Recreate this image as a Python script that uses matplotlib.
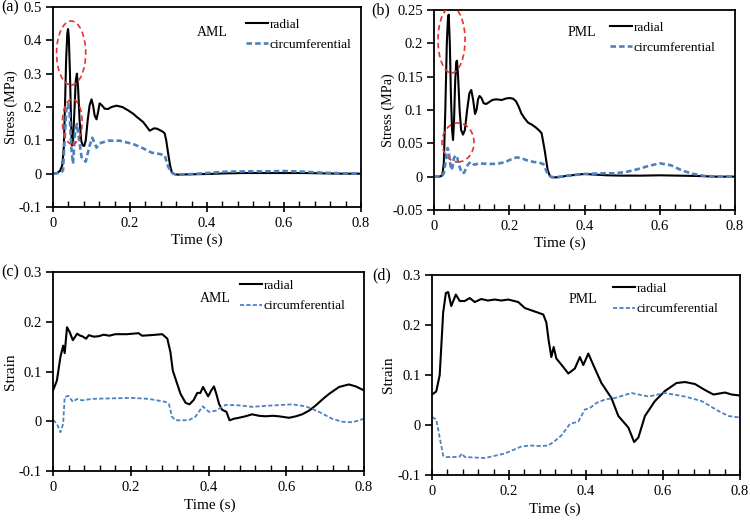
import matplotlib
matplotlib.use("Agg")
import matplotlib.pyplot as plt
from matplotlib.patches import Ellipse
from matplotlib.ticker import MultipleLocator, FuncFormatter, FixedLocator

plt.rcParams['font.family'] = ['Liberation Serif', 'DejaVu Serif']
plt.rcParams['axes.unicode_minus'] = False
plt.rcParams['lines.scale_dashes'] = False

# ---------------- data (time s, value) ----------------
aml_stress_radial = [(0, 0), (0.01, 0.002), (0.018, 0.008), (0.024, 0.025), (0.028, 0.08), (0.031, 0.2),
    (0.034, 0.34), (0.037, 0.42), (0.039, 0.434), (0.041, 0.41), (0.044, 0.3), (0.047, 0.15), (0.049, 0.085),
    (0.052, 0.1), (0.056, 0.2), (0.059, 0.28), (0.062, 0.3), (0.065, 0.26), (0.069, 0.16), (0.073, 0.1),
    (0.077, 0.085), (0.081, 0.083), (0.085, 0.1), (0.09, 0.16), (0.095, 0.205), (0.1, 0.223), (0.104, 0.205),
    (0.108, 0.175), (0.113, 0.163), (0.117, 0.185), (0.121, 0.211), (0.127, 0.205), (0.134, 0.195),
    (0.143, 0.194), (0.152, 0.2), (0.165, 0.204), (0.18, 0.2), (0.195, 0.19), (0.208, 0.18), (0.22, 0.168),
    (0.234, 0.155), (0.244, 0.14), (0.251, 0.129), (0.256, 0.132), (0.262, 0.136), (0.27, 0.135),
    (0.277, 0.131), (0.285, 0.126), (0.29, 0.121), (0.294, 0.1), (0.299, 0.061), (0.304, 0.025),
    (0.308, 0.006), (0.312, 0.0), (0.316, -0.0015), (0.325, -0.003), (0.35, -0.002), (0.4, -0.001),
    (0.45, 0.001), (0.5, 0.002), (0.55, 0.002), (0.6, 0.002), (0.65, 0.002), (0.7, 0.001), (0.75, 0.0), (0.8, 0.0)]
aml_stress_circ = [(0, 0), (0.015, 0.002), (0.022, 0.005), (0.026, 0.01), (0.03, 0.1), (0.035, 0.2),
    (0.039, 0.209), (0.043, 0.18), (0.048, 0.07), (0.052, 0.03), (0.057, 0.12), (0.062, 0.149), (0.068, 0.1),
    (0.074, 0.05), (0.085, 0.036), (0.094, 0.08), (0.102, 0.108), (0.113, 0.078), (0.121, 0.091),
    (0.143, 0.099), (0.173, 0.099), (0.208, 0.089), (0.234, 0.076), (0.256, 0.063), (0.277, 0.059),
    (0.29, 0.055), (0.299, 0.021), (0.308, 0.004), (0.316, -0.002), (0.35, -0.002), (0.4, 0.002),
    (0.45, 0.006), (0.5, 0.007), (0.55, 0.007), (0.6, 0.008), (0.65, 0.006), (0.7, 0.003), (0.75, 0.001), (0.8, 0.001)]

pml_stress_radial = [(0, 0), (0.015, 0), (0.022, 0.002), (0.026, 0.02), (0.03, 0.1), (0.034, 0.2),
    (0.037, 0.238), (0.039, 0.243), (0.042, 0.2), (0.045, 0.12), (0.048, 0.07), (0.0505, 0.055), (0.053, 0.08),
    (0.056, 0.14), (0.059, 0.172), (0.061, 0.174), (0.064, 0.15), (0.068, 0.1), (0.072, 0.07), (0.077, 0.063),
    (0.082, 0.07), (0.088, 0.1), (0.094, 0.125), (0.099, 0.13), (0.104, 0.115), (0.109, 0.094), (0.113, 0.1),
    (0.117, 0.116), (0.121, 0.121), (0.126, 0.118), (0.132, 0.11), (0.139, 0.109), (0.147, 0.112),
    (0.155, 0.115), (0.165, 0.116), (0.18, 0.115), (0.19, 0.117), (0.2, 0.118), (0.21, 0.117), (0.218, 0.113),
    (0.225, 0.105), (0.232, 0.095), (0.24, 0.088), (0.25, 0.081), (0.26, 0.078), (0.27, 0.074), (0.28, 0.069),
    (0.286, 0.065), (0.294, 0.04), (0.302, 0.01), (0.308, 0.001), (0.313, -0.001), (0.33, -0.001), (0.35, 0.001),
    (0.38, 0.003), (0.4, 0.004), (0.43, 0.003), (0.46, 0.002), (0.5, 0.0015), (0.55, 0.0015), (0.6, 0.002),
    (0.65, 0.0015), (0.7, 0.001), (0.75, 0.0), (0.8, 0.0)]
pml_stress_circ = [(0, 0), (0.02, 0), (0.026, 0.005), (0.03, 0.02), (0.033, 0.035), (0.036, 0.043),
    (0.039, 0.038), (0.043, 0.02), (0.046, 0.01), (0.049, 0.014), (0.053, 0.028), (0.058, 0.032), (0.062, 0.028),
    (0.066, 0.018), (0.071, 0.01), (0.075, 0.005), (0.08, 0.006), (0.085, 0.012), (0.09, 0.018), (0.097, 0.022),
    (0.103, 0.019), (0.11, 0.018), (0.117, 0.02), (0.13, 0.0195), (0.15, 0.019), (0.17, 0.0195), (0.19, 0.022),
    (0.205, 0.026), (0.22, 0.029), (0.235, 0.027), (0.25, 0.024), (0.265, 0.022), (0.28, 0.021), (0.29, 0.019),
    (0.296, 0.012), (0.302, 0.004), (0.31, 0.0), (0.32, -0.001), (0.35, 0.001), (0.4, 0.004), (0.45, 0.005),
    (0.48, 0.005), (0.51, 0.007), (0.54, 0.011), (0.57, 0.016), (0.6, 0.02), (0.63, 0.017), (0.66, 0.009),
    (0.69, 0.004), (0.72, 0.001), (0.76, 0.0), (0.8, 0.0)]

aml_strain_radial = [(0, 0.062), (0.01, 0.082), (0.019, 0.129), (0.026, 0.152), (0.03, 0.137), (0.036, 0.189),
    (0.043, 0.179), (0.051, 0.163), (0.062, 0.176), (0.07, 0.172), (0.075, 0.171), (0.085, 0.166),
    (0.092, 0.173), (0.105, 0.17), (0.118, 0.171), (0.13, 0.174), (0.145, 0.172), (0.16, 0.175), (0.19, 0.175),
    (0.22, 0.177), (0.229, 0.172), (0.25, 0.173), (0.281, 0.175), (0.294, 0.166), (0.302, 0.139),
    (0.308, 0.102), (0.319, 0.076), (0.328, 0.055), (0.341, 0.037), (0.351, 0.034), (0.362, 0.043),
    (0.371, 0.057), (0.379, 0.057), (0.386, 0.069), (0.392, 0.06), (0.399, 0.05), (0.407, 0.062),
    (0.414, 0.07), (0.42, 0.055), (0.427, 0.035), (0.435, 0.023), (0.446, 0.019), (0.454, 0.002),
    (0.465, 0.005), (0.478, 0.007), (0.495, 0.01), (0.512, 0.014), (0.53, 0.011), (0.547, 0.01),
    (0.565, 0.011), (0.581, 0.01), (0.607, 0.007), (0.625, 0.01), (0.641, 0.014), (0.66, 0.022), (0.676, 0.032),
    (0.693, 0.044), (0.71, 0.055), (0.736, 0.069), (0.761, 0.074), (0.779, 0.07), (0.8, 0.062)]
aml_strain_circ = [(0, 0.003), (0.01, -0.005), (0.019, -0.022), (0.026, -0.005), (0.03, 0.049), (0.04, 0.051),
    (0.051, 0.039), (0.062, 0.045), (0.075, 0.042), (0.1, 0.045), (0.15, 0.046), (0.203, 0.047), (0.246, 0.045),
    (0.289, 0.039), (0.298, 0.035), (0.306, 0.009), (0.315, 0.002), (0.349, 0.002), (0.366, 0.009),
    (0.385, 0.03), (0.401, 0.019), (0.418, 0.021), (0.444, 0.033), (0.478, 0.032), (0.512, 0.029),
    (0.547, 0.031), (0.615, 0.034), (0.65, 0.03), (0.684, 0.019), (0.718, 0.005), (0.744, -0.001),
    (0.77, -0.002), (0.8, 0.005)]

pml_strain_radial = [(0, 0.061), (0.011, 0.067), (0.02, 0.1), (0.029, 0.225), (0.036, 0.264), (0.042, 0.266),
    (0.05, 0.238), (0.062, 0.261), (0.072, 0.248), (0.085, 0.248), (0.098, 0.254), (0.111, 0.246),
    (0.128, 0.252), (0.145, 0.249), (0.163, 0.251), (0.18, 0.249), (0.198, 0.251), (0.224, 0.246),
    (0.241, 0.234), (0.267, 0.227), (0.289, 0.221), (0.297, 0.205), (0.303, 0.169), (0.31, 0.136),
    (0.316, 0.156), (0.323, 0.133), (0.341, 0.116), (0.354, 0.103), (0.371, 0.113), (0.384, 0.136),
    (0.393, 0.12), (0.406, 0.143), (0.419, 0.12), (0.44, 0.084), (0.466, 0.054), (0.484, 0.018),
    (0.51, -0.005), (0.525, -0.034), (0.536, -0.025), (0.553, 0.018), (0.579, 0.048), (0.605, 0.068),
    (0.635, 0.084), (0.657, 0.086), (0.683, 0.082), (0.709, 0.07), (0.731, 0.061), (0.761, 0.065),
    (0.778, 0.061), (0.8, 0.059)]
pml_strain_circ = [(0, 0.016), (0.011, 0.011), (0.02, -0.025), (0.029, -0.061), (0.037, -0.064),
    (0.059, -0.064), (0.072, -0.063), (0.078, -0.057), (0.085, -0.064), (0.137, -0.066), (0.189, -0.057),
    (0.232, -0.043), (0.254, -0.041), (0.284, -0.042), (0.302, -0.041), (0.319, -0.032), (0.336, -0.021),
    (0.358, 0.002), (0.38, 0.007), (0.397, 0.031), (0.41, 0.034), (0.427, 0.044), (0.449, 0.051),
    (0.475, 0.054), (0.518, 0.064), (0.562, 0.057), (0.605, 0.064), (0.657, 0.057), (0.7, 0.048),
    (0.744, 0.028), (0.77, 0.018), (0.8, 0.015)]

# highlight ellipses (center t, center value, width, height)
aml_ellipses = [(0.047, 0.362, 0.0756, 0.192), (0.05, 0.156, 0.051, 0.135)]
pml_ellipses = [(0.0465, 0.205, 0.0718, 0.099), (0.0638, 0.0513, 0.085, 0.0585)]

series_labels = ['radial', 'circumferential']
x_ticks = [0, 0.2, 0.4, 0.6, 0.8]
stress_a_ticks = [-0.1, 0, 0.1, 0.2, 0.3, 0.4, 0.5]
stress_b_ticks = [-0.05, 0, 0.05, 0.1, 0.15, 0.2, 0.25]
strain_ticks = [-0.1, 0, 0.1, 0.2, 0.3]

BLUE = '#4F81BD'
RED = '#E3342F'


def fmt(v, pos=None):
    if abs(v) < 1e-9:
        return '0'
    return f"{round(v, 3):g}"


fig = plt.figure(figsize=(7.5, 5.2), dpi=100)

panels = [
    # rect, radial, circ, ticks, ylabel, ylabel size, tag, name, ellipses, label xy, legend xy, ylabel x, xlabel xy, fine dash
    ([0.0707, 0.6019, 0.4107, 0.3846], aml_stress_radial, aml_stress_circ, stress_a_ticks, 'Stress (MPa)', 10.2,
     '(a)', 'AML', aml_ellipses, (0.518, 0.875), (0.625, 0.944), -0.115, (0.468, -0.135), False),
    ([0.5787, 0.5962, 0.4013, 0.3846], pml_stress_radial, pml_stress_circ, stress_b_ticks, 'Stress (MPa)', 10.2,
     '(b)', 'PML', pml_ellipses, (0.492, 0.885), (0.584, 0.944), -0.13, (0.419, -0.135), False),
    ([0.0707, 0.0942, 0.4147, 0.3827], aml_strain_radial, aml_strain_circ, strain_ticks, 'Strain', 11,
     '(c)', 'AML', [], (0.521, 0.869), (0.60, 0.962), -0.115, (0.503, -0.136), True),
    ([0.576, 0.0865, 0.4107, 0.3846], pml_strain_radial, pml_strain_circ, strain_ticks, 'Strain', 11,
     '(d)', 'PML', [], (0.49, 0.877), (0.586, 0.962), -0.12, (0.40, -0.135), True),
]
tag_pos = [(0.002, 1 - 7 / 520), (0.495, 1 - 10 / 520), (0.002, 1 - 272 / 520), (0.496, 1 - 275 / 520)]

for i, (rect, rad, circ, yt, ylab, ylsize, tag, name, ells, lxy, legxy, ylx, xlxy, fine) in enumerate(panels):
    ax = fig.add_axes(rect)
    ax.plot([p[0] for p in rad], [p[1] for p in rad], color='black', lw=1.5, label=series_labels[0])
    if fine:
        ax.plot([p[0] for p in circ], [p[1] for p in circ], color=BLUE, lw=1.3,
                dashes=(3, 1.6), label=series_labels[1])
    else:
        ax.plot([p[0] for p in circ], [p[1] for p in circ], color=BLUE, lw=1.9,
                dashes=(4, 2.2), label=series_labels[1])
    for (cx, cy, w, h) in ells:
        ax.add_patch(Ellipse((cx, cy), w, h, fill=False, edgecolor=RED, lw=1.2,
                             linestyle=(0, (4, 2.5)), zorder=5))
    ax.set_xlim(0, 0.8)
    ax.set_ylim(yt[0], yt[-1])
    ax.xaxis.set_major_locator(FixedLocator(x_ticks))
    ax.xaxis.set_minor_locator(MultipleLocator(0.04))
    ax.yaxis.set_major_locator(FixedLocator(yt))
    ax.xaxis.set_major_formatter(FuncFormatter(fmt))
    ax.yaxis.set_major_formatter(FuncFormatter(fmt))
    ax.tick_params(axis='x', which='major', direction='inout', length=7, width=1.2, labelsize=10.5, pad=3.5)
    ax.tick_params(axis='x', which='minor', direction='in', length=4, width=1.0)
    ax.tick_params(axis='y', which='major', direction='out', length=5, width=1.2, labelsize=10.5, pad=3)
    for s in ax.spines.values():
        s.set_linewidth(1.3)
    ax.set_ylabel(ylab, fontsize=ylsize)
    ax.yaxis.set_label_coords(ylx, 0.5)
    ax.set_xlabel('Time (s)', fontsize=11)
    ax.xaxis.set_label_coords(xlxy[0], xlxy[1])
    ax.text(lxy[0], lxy[1], name, transform=ax.transAxes, ha='center', va='center', fontsize=10)
    ax.legend(loc='upper left', bbox_to_anchor=legxy, frameon=False, fontsize=9.6, handlelength=1.65,
              handletextpad=0.15, labelspacing=0.6, borderaxespad=0, borderpad=0)
    fig.text(tag_pos[i][0], tag_pos[i][1], tag, ha='left', va='center', fontsize=11.5)

fig.savefig('out.png', dpi=100)
